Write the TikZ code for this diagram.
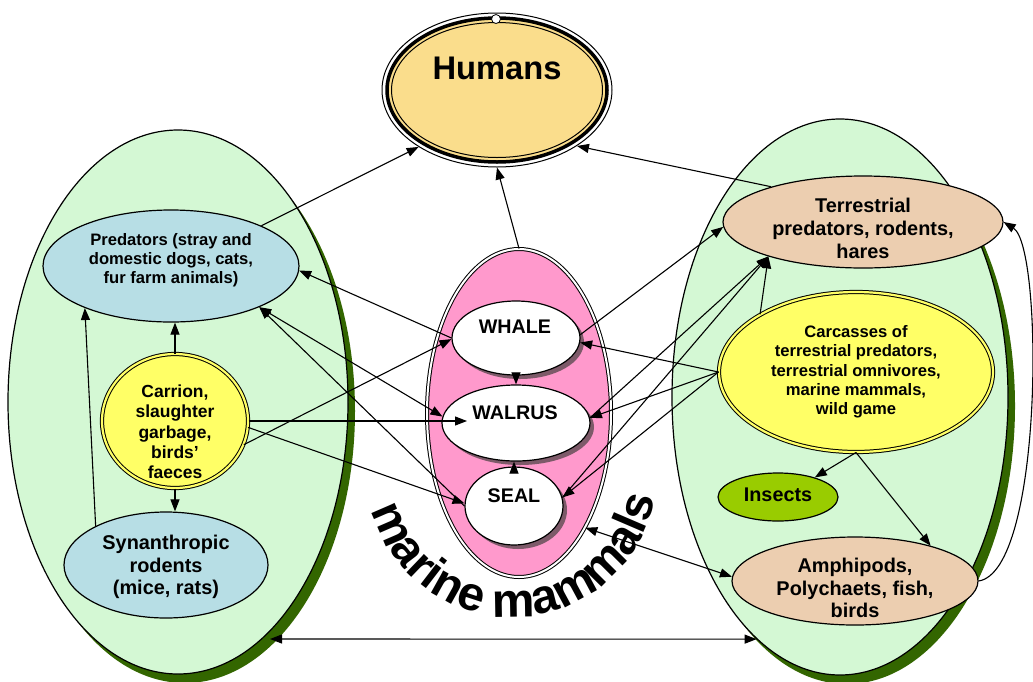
\documentclass[tikz,border=0pt]{standalone}
\usepackage{fontspec}
\setmainfont{Liberation Sans}
\usetikzlibrary{shapes.geometric,arrows.meta,shadows,decorations.text,calc}
\definecolor{bgreen}{RGB}{212,248,212}
\definecolor{dgreen}{RGB}{51,102,0}
\definecolor{pblue}{RGB}{183,222,229}
\definecolor{yel}{RGB}{255,255,102}
\definecolor{hum}{RGB}{250,221,140}
\definecolor{peach}{RGB}{236,206,176}
\definecolor{insectc}{RGB}{153,204,0}
\definecolor{pinkc}{RGB}{255,153,204}
\definecolor{shpink}{RGB}{125,90,105}
\begin{document}
\begin{tikzpicture}[x=1pt,y=1pt,
  conn/.style={line width=1.1pt, -{Triangle[length=12pt,width=9pt]}},
  dconn/.style={line width=1.1pt, {Triangle[length=12pt,width=9pt]}-{Triangle[length=12pt,width=9pt]}},
  ell/.style={ellipse, draw, line width=1.2pt, inner sep=0pt},
  bigell/.style={ell, fill=bgreen, drop shadow={shadow xshift=7pt,shadow yshift=-9pt,fill=dgreen,opacity=1}},
  mm/.style={ell, fill=white, drop shadow={shadow xshift=4pt,shadow yshift=-4pt,fill=shpink,opacity=1}},
  dbl/.style={ell, fill=yel, line width=1pt, double=yel, double distance=2.2pt},
  txt/.style={align=center, inner sep=0pt},
]
\useasboundingbox (0,0) rectangle (1033,-681);

% big groups
\node[bigell, minimum width=340pt, minimum height=544pt] (leftbig) at (178,-402) {};
\node[bigell, minimum width=336pt, minimum height=556pt] (rightbig) at (840,-397) {};

% humans
\node[ell, line width=1pt, fill=white, minimum width=230pt, minimum height=154pt] (humans) at (497,-90) {};
\filldraw[fill=hum, line width=3.5pt] (humans.center) ellipse [x radius=110, y radius=72];
\draw[line width=1pt] (humans.center) ellipse [x radius=105.5, y radius=67.5];
\node[circle, draw, line width=0.8pt, fill=white, minimum size=9pt, inner sep=0pt] (handle) at (496,-19) {};

% marine mammals
\node[ell, fill=pinkc, line width=1pt, double=white, double distance=2pt, minimum width=184pt, minimum height=328pt] (pink) at (519,-413) {};
\node[mm, minimum width=128pt, minimum height=74pt] (whale) at (516,-338) {};
\node[mm, minimum width=148pt, minimum height=76pt] (walrus) at (516,-423) {};
\node[mm, minimum width=98pt, minimum height=78pt] (seal) at (514,-506) {};

% left group
\node[ell, fill=pblue, minimum width=256pt, minimum height=112pt] (predators) at (171,-266) {};
\node[dbl, minimum width=146pt, minimum height=134pt] (carrion) at (175,-421) {};
\node[ell, fill=pblue, minimum width=204pt, minimum height=106pt] (synan) at (166,-565) {};

% right group
\node[ell, fill=peach, minimum width=280pt, minimum height=92pt] (terr) at (863,-222) {};
\node[dbl, minimum width=274pt, minimum height=160pt] (carc) at (856,-372) {};
\node[ell, fill=insectc, minimum width=120pt, minimum height=48pt] (insects) at (778,-497) {};
\node[ell, fill=peach, minimum width=246pt, minimum height=88pt] (amph) at (855,-581) {};

% texts
\node[txt, font=\bfseries\fontsize{32.7}{38}\selectfont] (humansT) at (497,-68) {Humans};
\node[txt, font=\bfseries\fontsize{16.6}{19}\selectfont] (predT) at (171,-260) {Predators (stray and\\domestic dogs, cats,\\fur farm animals)};
\node[txt, font=\bfseries\fontsize{17.5}{20.3}\selectfont] (carrT) at (175,-432) {Carrion,\\slaughter\\garbage,\\birds’\\faeces};
\node[txt, font=\bfseries\fontsize{19.9}{22.5}\selectfont] (synT) at (166,-567) {Synanthropic\\rodents\\(mice, rats)};
\node[txt, font=\bfseries\fontsize{19.9}{23}\selectfont] (terrT) at (863,-228) {Terrestrial\\predators, rodents,\\hares};
\node[txt, font=\bfseries\fontsize{16.6}{19.3}\selectfont] (carcT) at (856,-372) {Carcasses of\\terrestrial predators,\\terrestrial omnivores,\\marine mammals,\\wild game};
\node[txt, font=\bfseries\fontsize{19.8}{23}\selectfont] (insT) at (778,-495) {Insects};
\node[txt, font=\bfseries\fontsize{19.9}{22.5}\selectfont] (amphT) at (855,-588) {Amphipods,\\Polychaets, fish,\\birds};
\node[txt, font=\bfseries\fontsize{19.7}{23}\selectfont] (whaleT) at (515,-327) {WHALE};
\node[txt, font=\bfseries\fontsize{19.7}{23}\selectfont] (walrusT) at (515,-413) {WALRUS};
\node[txt, font=\bfseries\fontsize{19.7}{23}\selectfont] (sealT) at (514,-496) {SEAL};

\path[decorate, decoration={text along path, text align=center,
  text={|\bfseries\fontsize{48}{56}\selectfont|marine mammals}}]
  (512,-472) ++(-175:145) arc[start angle=-175, end angle=0, radius=145];

% connectors
\draw[conn] (predators.24) -- (humans.216);
\draw[conn] (carrion.north) -- (carrion.north |- predators.south);
\draw[conn] (carrion.south) -- (carrion.south |- synan.north);
\draw[conn] (synan.151) -- (predators.206);
\draw[conn] (whale.180) -- (predators.-2);
\draw[conn] (carrion.-19) -- (whale.181);
\draw[dconn] (predators.-25) -- (walrus.175);
\draw[conn] (seal.180) -- (predators.-25);
\draw[conn] (carrion.-5) -- (seal.177);
\coordinate (walrusin) at (467,-421);
\draw[conn] (carrion.east) -- (walrusin);

\draw[conn] (whale.south) -- (walrus.north);
\draw[conn] (seal.north) -- (seal.north |- walrus.south);

\draw[conn] (whale.3) -- (terr.182);
\draw[conn] (carc.180) -- (whale.-4);
\draw[conn] (carc.180) -- (walrus.4);
\draw[conn] (carc.180) -- (seal.10);
\draw[conn] (walrus.4) -- (terr.200);
\draw[conn] (seal.10) -- (terr.200);
\draw[conn] (carc.149) -- (terr.200);
\draw[conn] (carc.south) -- (insects.28);
\draw[conn] (carc.south) -- (amph.25);
\draw[conn] (amph.east) .. controls +(65,10) and +(40,-25) .. (terr.east);
\draw[conn] (terr.159) -- (humans.-35);
\draw[conn] (pink.north) -- (humans.south);
\draw[dconn] (pink.-60) -- (amph.178);
\coordinate (lefttip) at (270,-639);
\draw[dconn] (lefttip) -- (rightbig.251);
\end{tikzpicture}
\end{document}
